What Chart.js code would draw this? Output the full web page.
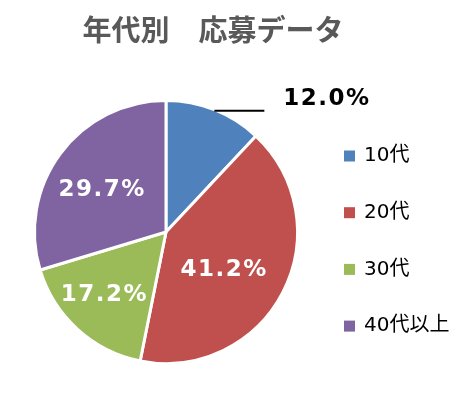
<!DOCTYPE html>
<html>
<head>
<meta charset="utf-8">
<script src="https://cdn.jsdelivr.net/npm/chart.js@4.4.1/dist/chart.umd.min.js"></script>
<style>
  html, body { margin: 0; padding: 0; background: #fff; }
  #wrap { width: 476px; height: 394px; }
</style>
</head>
<body>
<div id="wrap"><canvas id="pieChart" width="476" height="394"></canvas></div>
<script>
const chartTitle = '年代別　応募データ';
const ageGroups = ['10代', '20代', '30代', '40代以上'];
const shares = [12.0, 41.2, 17.2, 29.7];
const sliceColors = ['#4F81BD', '#C0504D', '#9BBB59', '#8064A2'];

const labelFont = 'bold 23px "DejaVu Sans", "Noto Sans CJK JP", sans-serif';

// title, legend and the percent labels are drawn by hand to match the Excel layout
const decorations = {
  id: 'decorations',
  afterDraw(chart) {
    const ctx = chart.ctx;
    const arcs = chart.getDatasetMeta(0).data;
    ctx.save();

    ctx.fillStyle = '#595959';
    ctx.font = 'bold 29px "Noto Sans CJK JP", sans-serif';
    ctx.textAlign = 'center';
    ctx.textBaseline = 'middle';
    ctx.fillText(chartTitle, 213, 30);

    // percentage labels (radius fraction + small angle nudge per slice)
    const radiusFrac = [null, 0.527, 0.67, 0.58];
    const angleNudge = [0, 0.1, 0.035, -0.058];
    ctx.letterSpacing = '1.5px';
    arcs.forEach((arc, i) => {
      const p = arc.getProps(['x', 'y', 'startAngle', 'endAngle', 'outerRadius'], true);
      const mid = (p.startAngle + p.endAngle) / 2;
      const text = shares[i].toFixed(1) + '%';
      ctx.font = labelFont;
      if (radiusFrac[i] === null) {
        const ax = p.x + Math.cos(mid) * p.outerRadius;
        const ay = p.y + Math.sin(mid) * p.outerRadius;
        ctx.strokeStyle = '#000';
        ctx.lineWidth = 2;
        ctx.beginPath();
        ctx.moveTo(ax, ay + 1);
        ctx.lineTo(ax + 50, ay + 1);
        ctx.stroke();
        ctx.fillStyle = '#000';
        ctx.textAlign = 'left';
        ctx.fillText(text, ax + 69, ay - 11);
      } else {
        const r = p.outerRadius * radiusFrac[i];
        const a = mid + angleNudge[i];
        ctx.fillStyle = '#fff';
        ctx.textAlign = 'center';
        ctx.fillText(text, p.x + Math.cos(a) * r, p.y + Math.sin(a) * r);
      }
    });
    ctx.letterSpacing = '0px';

    // legend
    ctx.font = '20px "DejaVu Sans", "Noto Sans CJK JP", sans-serif';
    ctx.textAlign = 'left';
    ageGroups.forEach((g, i) => {
      const y = 156 + i * 56.7;
      ctx.fillStyle = sliceColors[i];
      ctx.fillRect(344, y - 5.5, 11, 11);
      ctx.fillStyle = '#000';
      ctx.fillText(g, 364, y);
    });

    ctx.restore();
  }
};

const ctx = document.getElementById('pieChart').getContext('2d');
const pieChart = new Chart(ctx, {
  type: 'pie',
  data: {
    labels: ageGroups,
    datasets: [{
      data: shares,
      backgroundColor: sliceColors,
      borderColor: '#fff',
      borderWidth: 3
    }]
  },
  options: {
    responsive: false,
    animation: false,
    layout: {
      padding: { left: 33, right: 177, top: 99, bottom: 29 }
    },
    plugins: {
      legend: { display: false },
      title: { display: false },
      tooltip: { enabled: false }
    }
  },
  plugins: [decorations]
});
</script>
</body>
</html>
